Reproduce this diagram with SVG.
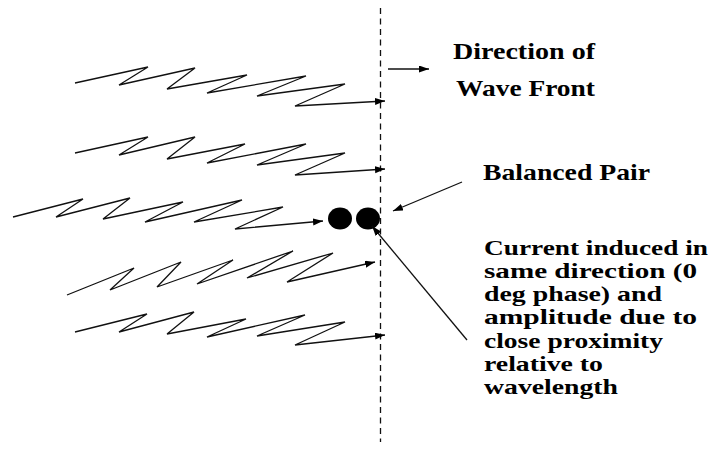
<svg xmlns="http://www.w3.org/2000/svg" width="713" height="453" viewBox="0 0 713 453">
<style>
.wave{fill:none;stroke:#111;stroke-width:1.3;stroke-linejoin:miter;marker-end:url(#ah)}
.ln{fill:none;stroke:#111;stroke-width:1.3;marker-end:url(#ah)}
.front{stroke:#111;stroke-width:1.3;stroke-dasharray:6 4.5}
text{font-weight:bold;fill:#000}
</style>
<defs>
<marker id="ah" markerUnits="userSpaceOnUse" markerWidth="11" markerHeight="8" refX="10" refY="3.5" orient="auto">
<path d="M0,0 L10,3.5 L0,7 z" fill="#000"/>
</marker>
</defs>
<rect width="713" height="453" fill="#fff"/>
<g id="wavefront">
<line class="front" x1="380.5" y1="8" x2="380.5" y2="442"/>
</g>
<g id="waves">
<polyline class="wave" points="75,83 148,67 119,85 195,68 167,89 247,75 207,93 306,76 257,96 345,84 295,106 385,101"/>
<polyline class="wave" points="75,153 148,137 119,155 195,137 167,159 245,144 207,163 306,144 257,165 345,153 295,175 385,169"/>
<polyline class="wave" points="13,217 83,199 56,217 130,198 103,219 183,202 145,222 242,200 194,222 283,207 235,229 323,221"/>
<polyline class="wave" points="67,295 134,268 110,290 181,262 157,287 233,260 197,284 293,251 247,278 333,253 287,282 375,262"/>
<polyline class="wave" points="75,332 147,314 119,332 194,312 167,334 246,319 207,337 305,315 257,336 345,322 295,345 385,335"/>
</g>
<g id="balanced-pair">
<ellipse cx="340" cy="218.5" rx="12" ry="11" fill="#000"/>
<ellipse cx="368" cy="218.5" rx="12" ry="11" fill="#000"/>
</g>
<g id="connectors">
<line class="ln" x1="388" y1="69" x2="429" y2="69"/>
<line class="ln" x1="462" y1="182" x2="393" y2="211"/>
<line class="ln" x1="467" y1="340" x2="372" y2="226"/>
</g>
<g id="label-direction" font-family="Liberation Serif, Times New Roman, serif" font-size="24">
<text x="453" y="59" textLength="142" lengthAdjust="spacingAndGlyphs">Direction of</text>
<text x="456" y="96" textLength="139" lengthAdjust="spacingAndGlyphs">Wave Front</text>
</g>
<g id="label-balanced" font-family="Liberation Serif, Times New Roman, serif" font-size="24">
<text x="483" y="180" textLength="167" lengthAdjust="spacingAndGlyphs">Balanced Pair</text>
</g>
<g id="label-current" font-family="Liberation Serif, Times New Roman, serif" font-size="21">
<text x="484" y="254.5" textLength="224" lengthAdjust="spacingAndGlyphs">Current induced in</text>
<text x="484" y="277.8" textLength="213" lengthAdjust="spacingAndGlyphs">same direction (0</text>
<text x="484" y="301.1" textLength="178" lengthAdjust="spacingAndGlyphs">deg phase) and</text>
<text x="484" y="324.4" textLength="213" lengthAdjust="spacingAndGlyphs">amplitude due to</text>
<text x="484" y="347.7" textLength="179" lengthAdjust="spacingAndGlyphs">close proximity</text>
<text x="484" y="371" textLength="119" lengthAdjust="spacingAndGlyphs">relative to</text>
<text x="484" y="394.3" textLength="134" lengthAdjust="spacingAndGlyphs">wavelength</text>
</g>
</svg>
